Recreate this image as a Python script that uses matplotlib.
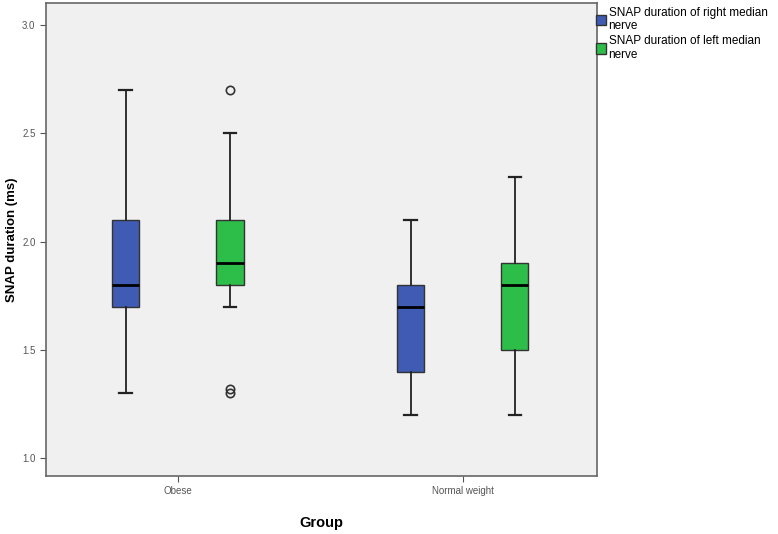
import matplotlib
matplotlib.use("Agg")
import matplotlib.pyplot as plt
from matplotlib.patches import Patch

plt.rcParams['font.family'] = ['Liberation Sans', 'DejaVu Sans']

groups = ["Obese", "Normal weight"]
series = ["SNAP duration of right median\nnerve", "SNAP duration of left median\nnerve"]
colors = ["#3F5BB3", "#2DBE4A"]

# [whislo, q1, med, q3, whishi] per group, per series
right_stats = [[1.3, 1.7, 1.8, 2.1, 2.7], [1.2, 1.4, 1.7, 1.8, 2.1]]
left_stats = [[1.7, 1.8, 1.9, 2.1, 2.5], [1.2, 1.5, 1.8, 1.9, 2.3]]
right_fliers = [[], []]
left_fliers = [[2.7, 1.3, 1.32], []]

fig = plt.figure(figsize=(7.78, 5.34), dpi=100)
ax = fig.add_axes([0.059, 0.109, 0.708, 0.885])
ax.set_facecolor("#F0F0F0")

offset = 0.183
width = 0.095
for s, (stats, fl) in enumerate([(right_stats, right_fliers), (left_stats, left_fliers)]):
    bstats = []
    for g in range(len(groups)):
        lo, q1, med, q3, hi = stats[g]
        bstats.append(dict(whislo=lo, q1=q1, med=med, q3=q3, whishi=hi, fliers=fl[g]))
    pos = [g + (offset if s else -offset) for g in range(len(groups))]
    ax.bxp(bstats, positions=pos, widths=width, patch_artist=True, showfliers=True,
           boxprops=dict(facecolor=colors[s], edgecolor="#333333", linewidth=1),
           medianprops=dict(color="black", linewidth=2),
           whiskerprops=dict(color="#222222", linewidth=1.3),
           capprops=dict(color="#222222", linewidth=1.6),
           capwidths=0.045,
           flierprops=dict(marker="o", markerfacecolor="none", markeredgecolor="#333333",
                           markersize=6, markeredgewidth=1.2))

ax.set_xlim(-0.463, 1.47)
ax.set_ylim(0.92, 3.10)
ax.set_xticks(range(len(groups)))
ax.set_xticklabels(groups)
ax.set_yticks([1.0, 1.5, 2.0, 2.5, 3.0])
ax.set_yticklabels(["1.0", "1.5", "2.0", "2.5", "3.0"])
ax.tick_params(labelsize=7, colors="#555555", length=4)
for sp in ax.spines.values():
    sp.set_color("#666666")
    sp.set_linewidth(1.2)
ax.set_ylabel("SNAP duration (ms)", fontsize=9.5, fontweight="bold", labelpad=3)
ax.set_xlabel("Group", fontsize=10.5, fontweight="bold", labelpad=14)

handles = [Patch(facecolor=c, edgecolor="#333333") for c in colors]
fig.legend(handles, series, loc="upper left", bbox_to_anchor=(0.764, 0.99), frameon=False,
           fontsize=8.5, handlelength=0.9, handleheight=1.0, handletextpad=0.2,
           labelspacing=0.25, borderaxespad=0, borderpad=0.1)

fig.savefig("out.png", dpi=100, facecolor="white")
